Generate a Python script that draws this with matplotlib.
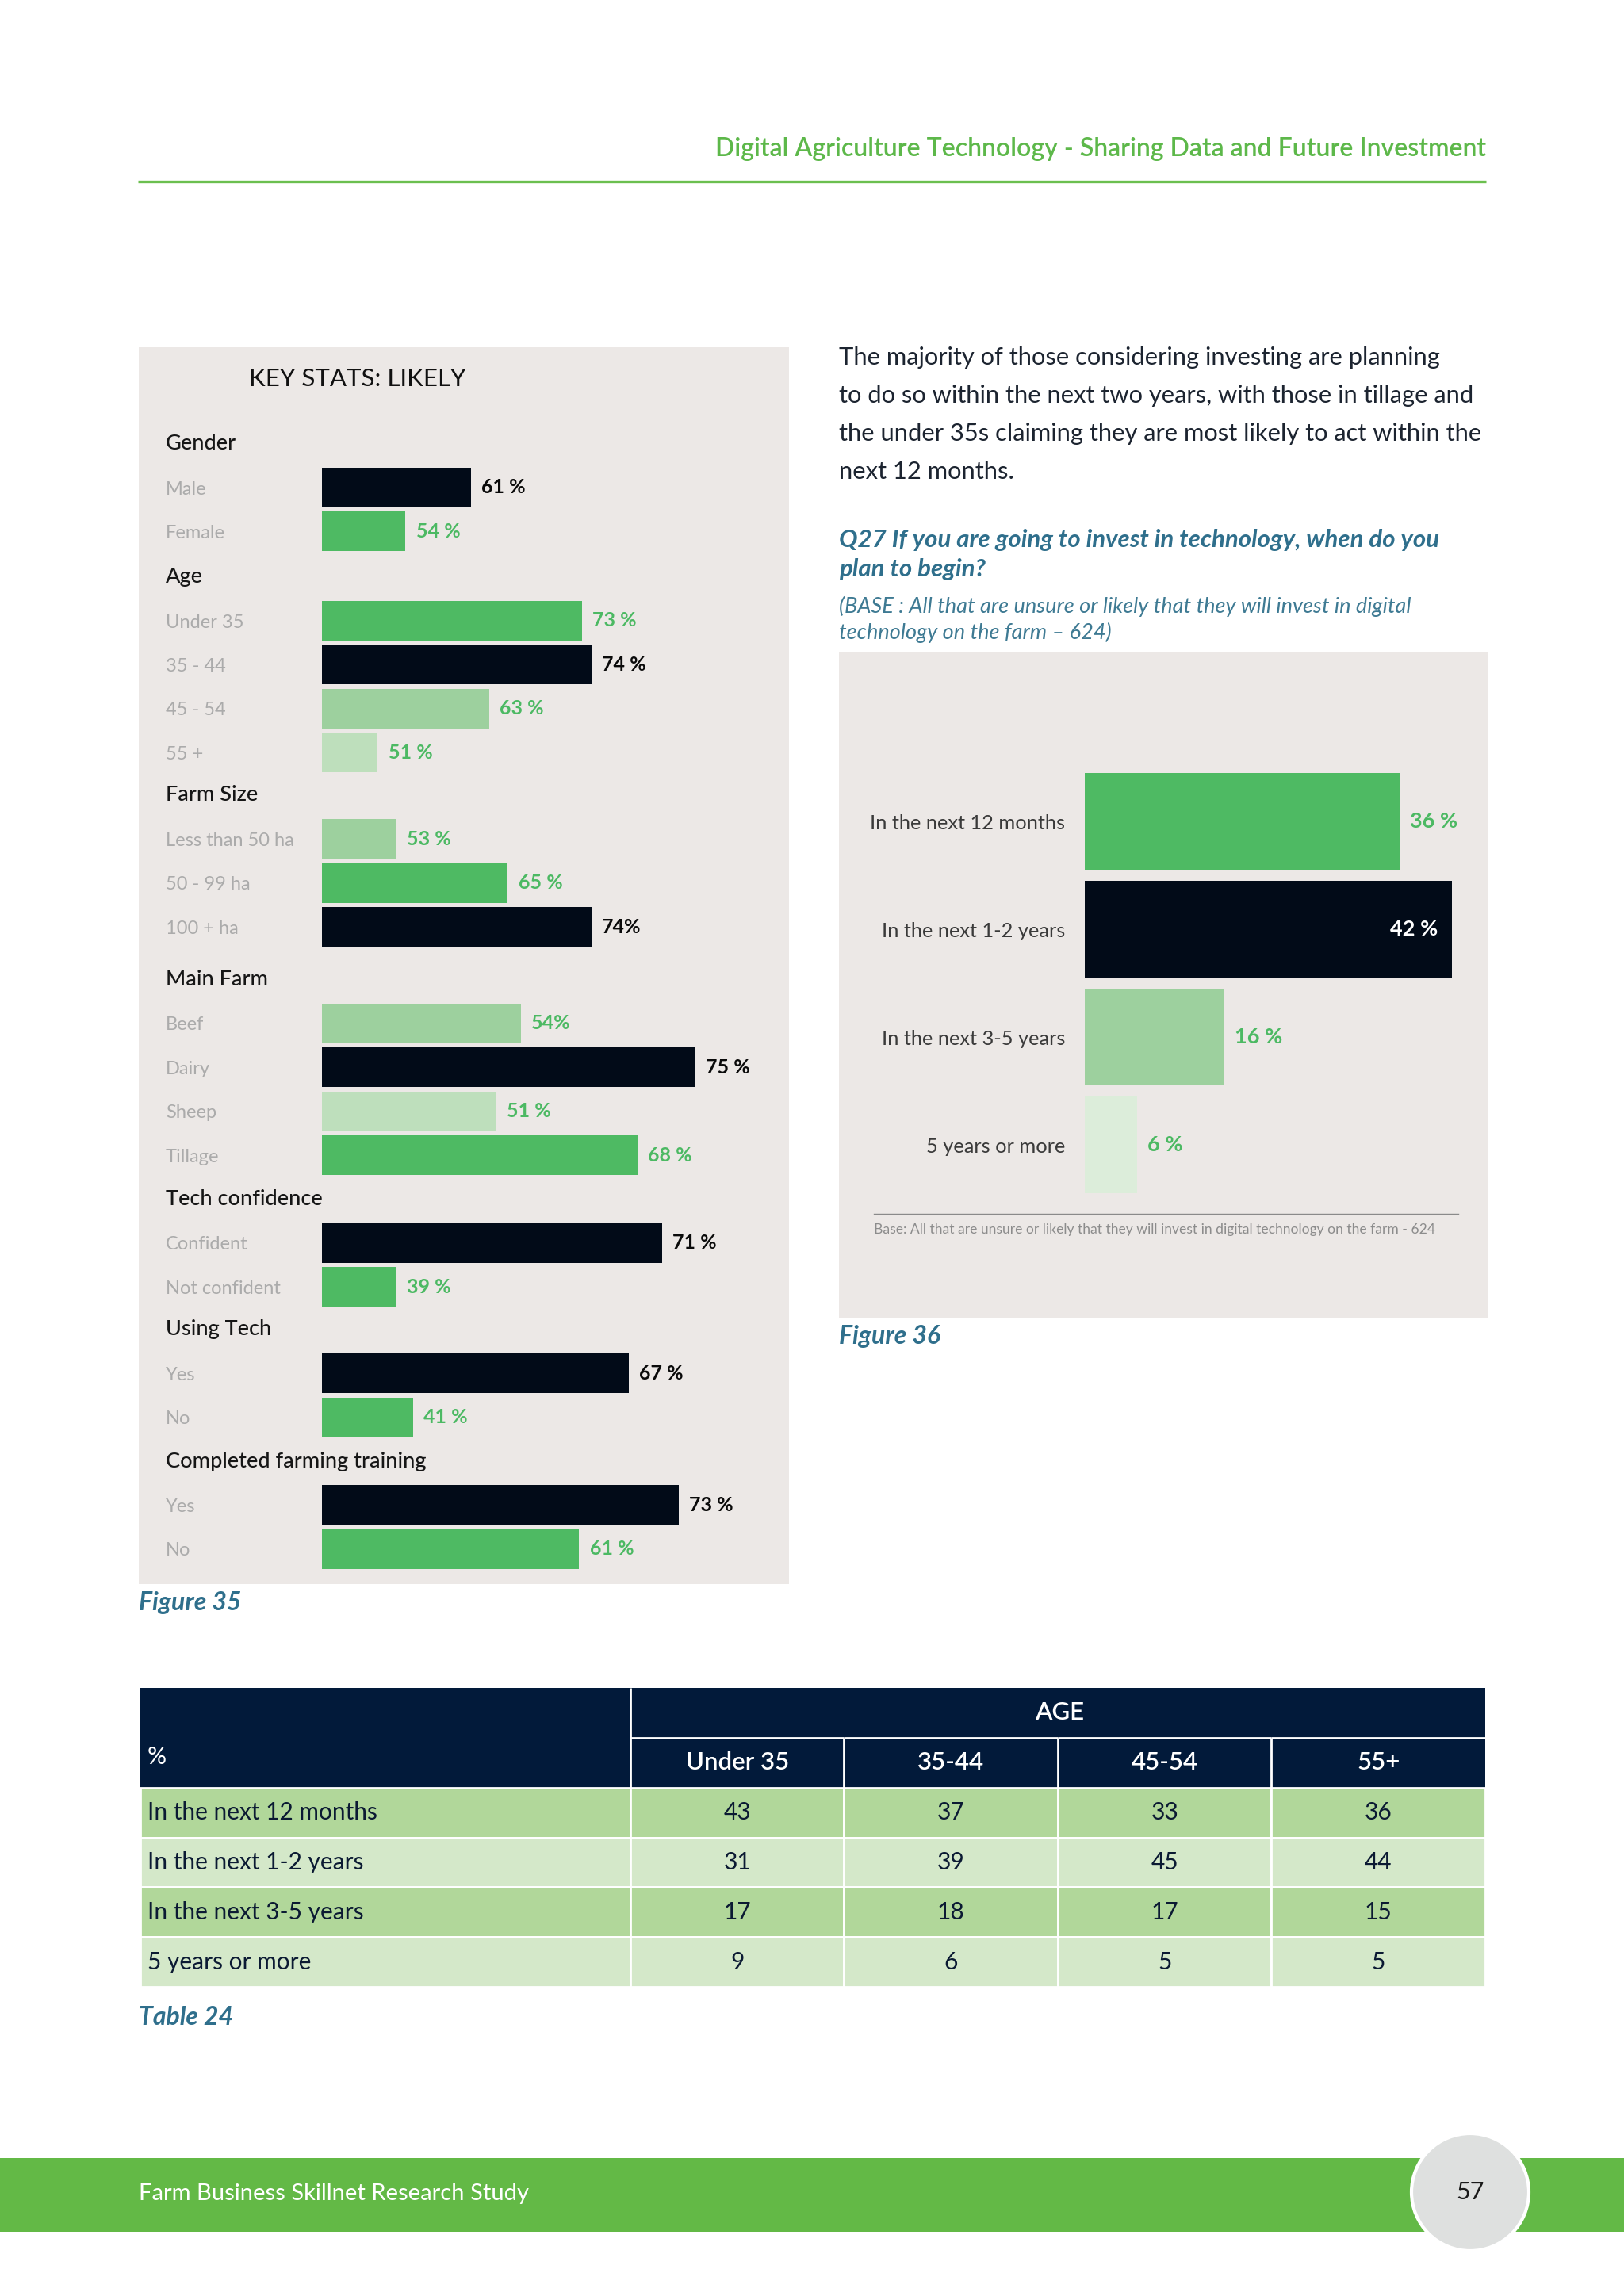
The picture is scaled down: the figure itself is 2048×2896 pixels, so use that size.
import matplotlib
matplotlib.use('Agg')
import matplotlib.pyplot as plt
from matplotlib.patches import Rectangle, Circle

plt.rcParams['font.family'] = ['Lato', 'DejaVu Sans']

W, H = 2048, 2896

# ---- data: key stats (figure 35)
sections = ['Gender', 'Age', 'Farm Size', 'Main Farm', 'Tech confidence',
            'Using Tech', 'Completed farming training']
section_labels = [
    ['Male', 'Female'],
    ['Under 35', '35 - 44', '45 - 54', '55 +'],
    ['Less than 50 ha', '50 - 99 ha', '100 + ha'],
    ['Beef', 'Dairy', 'Sheep', 'Tillage'],
    ['Confident', 'Not confident'],
    ['Yes', 'No'],
    ['Yes', 'No'],
]
section_values = [
    [61, 54],
    [73, 74, 63, 51],
    [53, 65, 74],
    [54, 75, 51, 68],
    [71, 39],
    [67, 41],
    [73, 61],
]
# labels printed without the space before %
no_space = [('Farm Size', '100 + ha'), ('Main Farm', 'Beef')]

# ---- data: figure 36
timing_labels = ['In the next 12 months', 'In the next 1-2 years',
                 'In the next 3-5 years', '5 years or more']
timing_values = [36, 42, 16, 6]

# ---- data: table 24
age_groups = ['Under 35', '35-44', '45-54', '55+']
table_rows = ['In the next 12 months', 'In the next 1-2 years',
              'In the next 3-5 years', '5 years or more']
table_values = [
    [43, 37, 33, 36],
    [31, 39, 45, 44],
    [17, 18, 17, 15],
    [9, 6, 5, 5],
]

# ---- styles
DARK = '#020B18'
GREEN = '#4EBA63'
MID = '#9DD09E'
LIGHT = '#BEDFBC'
PALE = '#DCEDDA'
TXT_GREEN = '#4CB963'
TEAL = '#2F6F8C'
PANEL = '#ECE8E6'
NAVY = '#021A3A'
tones = {'d': DARK, 'g': GREEN, 'm': MID, 'l': LIGHT, 'p': PALE}
section_tones = ['dg', 'gdml', 'mgd', 'mdlg', 'dg', 'dg', 'dg']
timing_tones = 'gdmp'


def px_axes(x0, y0, x1, y1):
    ax = fig.add_axes([x0 / W, 1 - y1 / H, (x1 - x0) / W, (y1 - y0) / H])
    ax.patch.set_alpha(0)
    for s in ax.spines.values():
        s.set_visible(False)
    return ax


fig = plt.figure(figsize=(W / 100, H / 100), dpi=100)
page = fig.add_axes([0, 0, 1, 1])
page.set_xlim(0, W)
page.set_ylim(H, 0)
page.axis('off')

# header
page.text(1874, 188, 'Digital Agriculture Technology - Sharing Data and Future Investment',
          ha='right', va='center', fontsize=23, color='#5DB84A', fontweight='semibold')
page.plot([174, 1874], [229, 229], color='#6BBF4F', lw=2.4, solid_capstyle='butt')

# ---- left panel: key stats
page.add_patch(Rectangle((175, 438), 820, 1560, color=PANEL, lw=0))
page.text(314, 478, 'KEY STATS: LIKELY', ha='left', va='center', fontsize=22.5, color='#111111')

header_y = [559.6, 727.6, 1002.8, 1235.5, 1512.5, 1676.8, 1843.0]
PITCH = 55.4
BAR_X0, BAR_X1 = 406, 960
section_base = [45, 45, 45, 30, 30, 30, 30]
px_per_pct = [11.72, 11.72, 11.72, 10.465, 10.465, 10.465, 10.465]

for i, name in enumerate(sections):
    labels = section_labels[i]
    values = section_values[i]
    n = len(labels)
    page.text(209, header_y[i], name, ha='left', va='center', fontsize=19.5,
              color='#161616', fontweight='medium')
    top = header_y[i] + PITCH * 0.5
    ax = px_axes(BAR_X0, top, BAR_X1, top + n * PITCH)
    cols = [tones[t] for t in section_tones[i]]
    ax.barh(range(n), values, height=0.9, color=cols)
    ax.set_xlim(section_base[i], section_base[i] + (BAR_X1 - BAR_X0) / px_per_pct[i])
    ax.set_ylim(n - 0.5, -0.5)
    ax.set_xticks([])
    ax.set_yticks(range(n), labels)
    ax.tick_params(axis='y', length=0, pad=(BAR_X0 - 209) / 100 * 72,
                   labelsize=17, labelcolor='#ABABAB')
    for lbl in ax.get_yticklabels():
        lbl.set_ha('left')
    for j, v in enumerate(values):
        txt = f'{v}%' if (name, labels[j]) in no_space else f'{v} %'
        c = '#0A0A0A' if cols[j] == DARK else TXT_GREEN
        ax.annotate(txt, xy=(v, j), xytext=(9.5, 0), textcoords='offset points',
                    ha='left', va='center', fontsize=18, fontweight='bold', color=c)

page.text(175, 2022, 'Figure 35', ha='left', va='center', fontsize=23,
          color=TEAL, fontweight='bold', fontstyle='italic')

# ---- right column text
para = ['The majority of those considering investing are planning',
        'to do so within the next two years, with those in tillage and',
        'the under 35s claiming they are most likely to act within the',
        'next 12 months.']
for k, line in enumerate(para):
    page.text(1058, 451 + k * 48, line, ha='left', va='center', fontsize=22.2, color='#1C2430')

for k, line in enumerate(['Q27 If you are going to invest in technology, when do you',
                          'plan to begin?']):
    page.text(1058, 681 + k * 37, line, ha='left', va='center', fontsize=22.5,
              color=TEAL, fontweight='bold', fontstyle='italic')
for k, line in enumerate(['(BASE : All that are unsure or likely that they will invest in digital',
                          'technology on the farm \u2013 624)']):
    page.text(1058, 765 + k * 33, line, ha='left', va='center', fontsize=19.5,
              color='#3E7A93', fontstyle='italic')

# ---- right panel: figure 36
page.add_patch(Rectangle((1058, 822), 818, 840, color=PANEL, lw=0))
ax2 = px_axes(1368, 968, 1868, 1512)
cols2 = [tones[t] for t in timing_tones]
n2 = len(timing_values)
ax2.barh(range(n2), timing_values, height=0.9, color=cols2)
ax2.set_xlim(0, 500 / 11.03)
ax2.set_ylim(n2 - 0.5, -0.5)
ax2.set_xticks([])
ax2.set_yticks(range(n2), timing_labels)
ax2.tick_params(axis='y', length=0, pad=18, labelsize=18.3, labelcolor='#3A3A3A')
for j, v in enumerate(timing_values):
    if v == max(timing_values):
        ax2.annotate(f'{v} %', xy=(v, j), xytext=(-13, 0), textcoords='offset points',
                     ha='right', va='center', fontsize=19.5, fontweight='bold', color='white')
    else:
        ax2.annotate(f'{v} %', xy=(v, j), xytext=(9, 0), textcoords='offset points',
                     ha='left', va='center', fontsize=19.5, fontweight='bold', color=TXT_GREEN)

page.plot([1102, 1839], [1531, 1531], color='#8A8A8A', lw=1)
page.text(1102, 1551, 'Base: All that are unsure or likely that they will invest in digital technology on the farm - 624',
          ha='left', va='center', fontsize=12.6, color='#8C8C8C')
page.text(1058, 1686, 'Figure 36', ha='left', va='center', fontsize=23,
          color=TEAL, fontweight='bold', fontstyle='italic')

# ---- table 24
ax3 = px_axes(177, 2129, 1873, 2506)
ax3.axis('off')
ax3.add_patch(Rectangle((0, 4 / 6), 1, 2 / 6, transform=ax3.transAxes, color=NAVY, lw=0, zorder=0))
cell_text = [[''] * 5, [''] + age_groups]
cell_text += [[r] + [str(v) for v in vals] for r, vals in zip(table_rows, table_values)]
col_w = [619, 270, 270, 270, 270]
tbl = ax3.table(cellText=cell_text, bbox=[0, 0, 1, 1],
                colWidths=[w / sum(col_w) for w in col_w], cellLoc='center')
tbl.set_zorder(3)
tbl.auto_set_font_size(False)
row_bg = ['#B1D79A', '#D4E8C9']
for (r, c), cell in tbl.get_celld().items():
    cell.set_edgecolor('white')
    cell.set_linewidth(2)
    t = cell.get_text()
    t.set_fontsize(21.5)
    if r < 2:
        cell.set_facecolor(NAVY)
        t.set_color('white')
        t.set_fontweight('semibold')
        t.set_fontsize(22.5)
        if c == 0:
            cell.visible_edges = ''
        elif r == 0:
            cell.visible_edges = 'BL' if c == 1 else 'B'
        else:
            cell.visible_edges = 'L'
    else:
        cell.set_facecolor(row_bg[(r - 2) % 2])
        t.set_color('#0B1A33')
        if c == 0:
            cell.PAD = 0.015
            t.set_ha('left')
            cell._loc = 'left'
ax3.text((619 + 540) / 1696, 1 - 0.5 / 6, 'AGE', transform=ax3.transAxes, ha='center',
         va='center', fontsize=22.5, color='white', fontweight='semibold', zorder=4)
ax3.text(9 / 1696, 0.77, '%', transform=ax3.transAxes, ha='left', va='center',
         fontsize=21.5, color='white', zorder=4)

page.text(175, 2545, 'Table 24', ha='left', va='center', fontsize=23,
          color=TEAL, fontweight='bold', fontstyle='italic')

# ---- footer
page.add_patch(Rectangle((0, 2722), W, 93, color='#63B946', lw=0))
page.text(175, 2767, 'Farm Business Skillnet Research Study', ha='left', va='center',
          fontsize=21, color='white')
page.add_patch(Circle((1854, 2765), 74, facecolor='#DEE0DF', edgecolor='white', lw=3, zorder=3))
page.text(1854, 2765, '57', ha='center', va='center', fontsize=22, color='#1A1A1A', zorder=4)

fig.savefig('out.png', dpi=100)
